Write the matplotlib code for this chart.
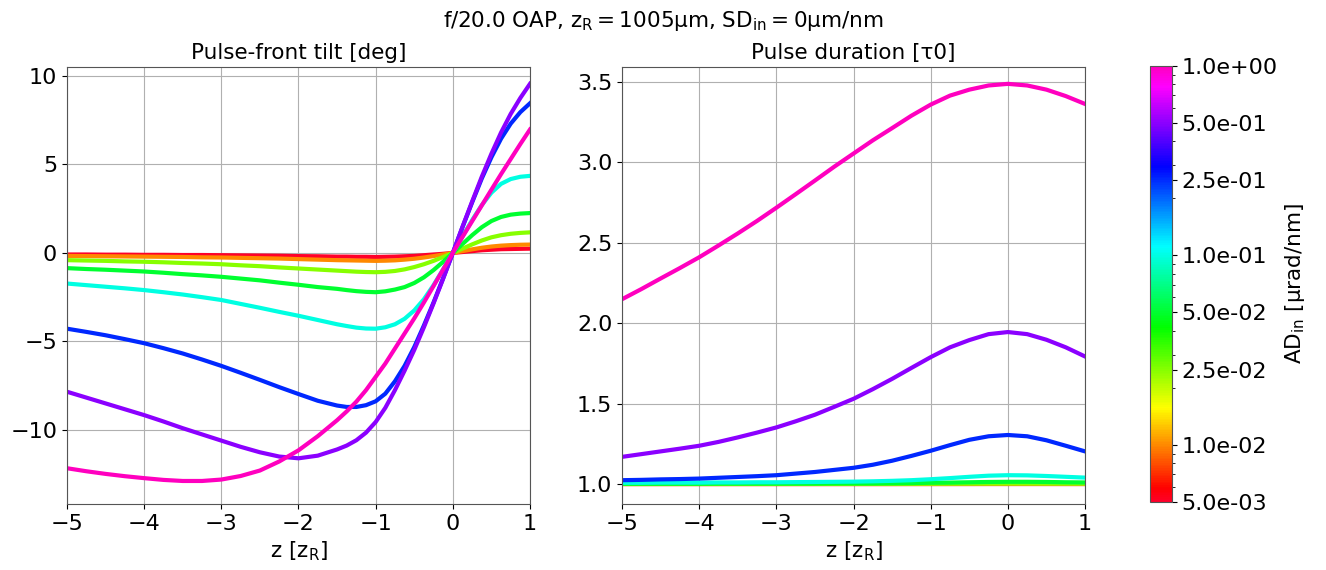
import numpy as np
import matplotlib
matplotlib.use("Agg")
import matplotlib.pyplot as plt
from matplotlib.colors import LogNorm
from matplotlib.cm import ScalarMappable
from matplotlib.ticker import FormatStrFormatter

# ---- data ----
ad_values = [5e-3, 1e-2, 2.5e-2, 5e-2, 1e-1, 2.5e-1, 5e-1, 1.0]
cbar_ticks = [5e-3, 1e-2, 2.5e-2, 5e-2, 1e-1, 2.5e-1, 5e-1, 1.0]

# z positions for the pulse-front-tilt panel (denser near the focus)
z_pft = [-5, -4.75, -4.5, -4.25, -4, -3.75, -3.5, -3.25, -3, -2.75, -2.5, -2.25, -2, -1.75, -1.5,
         -1.375, -1.25, -1.125, -1, -0.875, -0.75, -0.625, -0.5, -0.375, -0.25, -0.125, 0,
         0.125, 0.25, 0.375, 0.5, 0.625, 0.75, 0.875, 1]

pft_red = [-0.09, -0.09, -0.10, -0.10, -0.11, -0.11, -0.12, -0.12, -0.13, -0.14, -0.15, -0.16, -0.18, -0.19, -0.21,
           -0.21, -0.22, -0.22, -0.23, -0.22, -0.21, -0.19, -0.17, -0.13, -0.09, -0.05, 0,
           0.05, 0.10, 0.15, 0.18, 0.21, 0.22, 0.23, 0.24]
pft_orange = [-0.17, -0.18, -0.19, -0.20, -0.21, -0.22, -0.23, -0.25, -0.26, -0.28, -0.30, -0.32, -0.35, -0.38, -0.41,
              -0.42, -0.43, -0.44, -0.45, -0.44, -0.42, -0.38, -0.33, -0.26, -0.18, -0.09, 0,
              0.10, 0.20, 0.29, 0.36, 0.41, 0.44, 0.46, 0.47]
pft_lime = [-0.41, -0.43, -0.45, -0.48, -0.50, -0.53, -0.57, -0.60, -0.64, -0.70, -0.75, -0.82, -0.88, -0.94, -1.00,
            -1.03, -1.06, -1.08, -1.09, -1.07, -1.02, -0.93, -0.80, -0.64, -0.45, -0.23, 0,
            0.24, 0.48, 0.70, 0.88, 1.00, 1.08, 1.13, 1.16]
pft_green = [-0.86, -0.91, -0.95, -1.00, -1.05, -1.12, -1.20, -1.27, -1.35, -1.45, -1.55, -1.68, -1.80, -1.93, -2.03,
             -2.10, -2.16, -2.20, -2.22, -2.17, -2.07, -1.93, -1.70, -1.38, -0.97, -0.50, 0,
             0.50, 1.00, 1.45, 1.80, 2.03, 2.16, 2.22, 2.25]
pft_cyan = [-1.73, -1.82, -1.91, -2.00, -2.10, -2.22, -2.35, -2.50, -2.66, -2.88, -3.10, -3.33, -3.55, -3.79, -4.03,
            -4.13, -4.22, -4.27, -4.28, -4.20, -4.03, -3.72, -3.25, -2.62, -1.82, -0.92, 0,
            0.93, 1.85, 2.70, 3.40, 3.90, 4.17, 4.30, 4.35]
pft_blue = [-4.28, -4.46, -4.65, -4.87, -5.10, -5.38, -5.68, -6.02, -6.38, -6.77, -7.17, -7.58, -7.97, -8.35, -8.62,
            -8.70, -8.70, -8.60, -8.38, -7.95, -7.25, -6.38, -5.32, -4.10, -2.80, -1.42, 0,
            1.45, 2.85, 4.20, 5.40, 6.45, 7.30, 7.95, 8.45]
pft_purple = [-7.84, -8.17, -8.50, -8.83, -9.16, -9.52, -9.90, -10.25, -10.60, -10.95, -11.26, -11.50, -11.60, -11.45, -11.10,
              -10.88, -10.58, -10.15, -9.55, -8.75, -7.75, -6.65, -5.48, -4.20, -2.85, -1.45, 0,
              1.47, 2.90, 4.30, 5.60, 6.80, 7.85, 8.75, 9.55]
pft_magenta = [-12.16, -12.33, -12.48, -12.61, -12.72, -12.82, -12.88, -12.88, -12.80, -12.60, -12.29, -11.78, -11.15, -10.35, -9.45,
               -8.95, -8.40, -7.75, -7.00, -6.25, -5.40, -4.55, -3.70, -2.80, -1.87, -0.93, 0,
               0.90, 1.79, 2.68, 3.57, 4.45, 5.30, 6.15, 6.97]

# z positions for the pulse-duration panel
z_dur = [-5, -4.75, -4.5, -4.25, -4, -3.75, -3.5, -3.25, -3, -2.75, -2.5, -2.25, -2,
         -1.75, -1.5, -1.25, -1, -0.75, -0.5, -0.25, 0, 0.25, 0.5, 0.75, 1]

dur_red = [1.0000, 1.0000, 1.0000, 1.0000, 1.0000, 1.0000, 1.0000, 1.0000, 1.0000, 1.0000, 1.0000, 1.0000, 1.0000,
           1.0000, 1.0000, 1.0001, 1.0001, 1.0001, 1.0001, 1.0002, 1.0002, 1.0002, 1.0002, 1.0001, 1.0001]
dur_orange = [1.0001, 1.0001, 1.0001, 1.0001, 1.0001, 1.0001, 1.0001, 1.0001, 1.0001, 1.0001, 1.0001, 1.0002, 1.0002,
              1.0002, 1.0002, 1.0003, 1.0003, 1.0004, 1.0005, 1.0006, 1.0006, 1.0006, 1.0005, 1.0005, 1.0004]
dur_lime = [1.0005, 1.0005, 1.0005, 1.0006, 1.0006, 1.0006, 1.0007, 1.0007, 1.0007, 1.0008, 1.0008, 1.0009, 1.0010,
            1.0011, 1.0013, 1.0015, 1.0019, 1.0023, 1.0028, 1.0033, 1.0035, 1.0034, 1.0031, 1.0028, 1.0025]
dur_green = [1.002, 1.002, 1.002, 1.002, 1.002, 1.003, 1.003, 1.003, 1.003, 1.003, 1.003, 1.004, 1.004,
             1.004, 1.005, 1.006, 1.008, 1.009, 1.011, 1.013, 1.014, 1.014, 1.013, 1.011, 1.010]
dur_cyan = [1.008, 1.008, 1.009, 1.009, 1.009, 1.010, 1.010, 1.011, 1.011, 1.012, 1.013, 1.014, 1.015,
            1.017, 1.020, 1.024, 1.030, 1.037, 1.045, 1.052, 1.055, 1.054, 1.050, 1.045, 1.040]
dur_blue = [1.024, 1.026, 1.029, 1.031, 1.034, 1.039, 1.044, 1.049, 1.055, 1.065, 1.075, 1.088, 1.101,
            1.120, 1.145, 1.175, 1.207, 1.242, 1.275, 1.297, 1.305, 1.297, 1.272, 1.238, 1.203]
dur_purple = [1.169, 1.186, 1.203, 1.220, 1.238, 1.262, 1.290, 1.320, 1.352, 1.390, 1.431, 1.480, 1.530,
              1.590, 1.654, 1.722, 1.789, 1.850, 1.895, 1.932, 1.945, 1.932, 1.897, 1.850, 1.793]
dur_magenta = [2.149, 2.212, 2.278, 2.343, 2.410, 2.483, 2.558, 2.636, 2.718, 2.802, 2.887, 2.973, 3.055,
               3.137, 3.213, 3.290, 3.359, 3.415, 3.452, 3.478, 3.488, 3.478, 3.452, 3.412, 3.363]

pft_series = [pft_red, pft_orange, pft_lime, pft_green, pft_cyan, pft_blue, pft_purple, pft_magenta]
dur_series = [dur_red, dur_orange, dur_lime, dur_green, dur_cyan, dur_blue, dur_purple, dur_magenta]

# ---- figure ----
fig = plt.figure(figsize=(13.26, 5.70), dpi=100)
ax1 = fig.add_axes([0.0505, 0.1158, 0.3492, 0.7667])
ax2 = fig.add_axes([0.4691, 0.1158, 0.3492, 0.7667])
cax = fig.add_axes([0.8673, 0.1193, 0.0166, 0.7650])

norm = LogNorm(vmin=5e-3, vmax=1.0)
cmap = plt.get_cmap("gist_rainbow")

for ad, p, d in zip(ad_values, pft_series, dur_series):
    c = cmap(norm(ad))
    ax1.plot(z_pft, p, color=c, lw=3)
    ax2.plot(z_dur, d, color=c, lw=3)

for ax in (ax1, ax2):
    ax.set_xlim(-5, 1)
    ax.set_xticks([-5, -4, -3, -2, -1, 0, 1])
    ax.grid(True, color="#b0b0b0", lw=0.8)
    ax.tick_params(labelsize=16)
    ax.set_xlabel(r"z [$\mathrm{z_R}$]", fontsize=15.5)
    for s in ax.spines.values():
        s.set_color("#555555")

ax1.set_ylim(-14.18, 10.5)
ax1.set_yticks([-10, -5, 0, 5, 10])
ax2.set_ylim(0.876, 3.593)
ax2.set_yticks([1.0, 1.5, 2.0, 2.5, 3.0, 3.5])
ax2.yaxis.set_major_formatter(FormatStrFormatter("%.1f"))

ax1.set_title("Pulse-front tilt [deg]", fontsize=15.5)
ax2.set_title("Pulse duration [τ0]", fontsize=15.5)

fig.suptitle(r"f/20.0 OAP, $\mathrm{z_R}=1005\mathrm{μm}$, $\mathrm{SD_{in}}=0\mathrm{μm/nm}$",
             fontsize=15.5, y=0.985)

sm = ScalarMappable(norm=norm, cmap=cmap)
sm.set_array([])
cb = fig.colorbar(sm, cax=cax, ticks=cbar_ticks)
cb.ax.yaxis.set_major_formatter(FormatStrFormatter("%.1e"))
cb.ax.tick_params(labelsize=16)
cb.set_label(r"$\mathrm{AD_{in}}$ [μrad/nm]", fontsize=15.5)
cb.outline.set_edgecolor("#555555")

fig.savefig("out.png", dpi=100)
